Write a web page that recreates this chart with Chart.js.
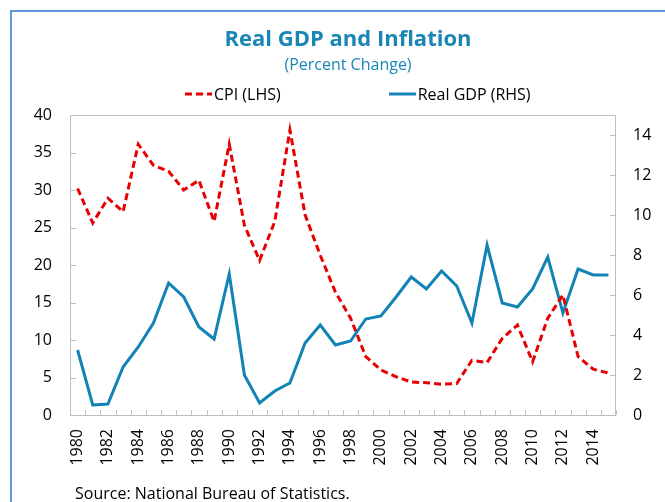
<!DOCTYPE html>
<html>
<head>
<meta charset="utf-8">
<script src="https://cdn.jsdelivr.net/npm/chart.js@4.4.1/dist/chart.umd.min.js"></script>
<style>
  body { margin: 0; background: #fff; font-family: "Open Sans", sans-serif; }
  #wrap { position: relative; width: 665px; height: 502px; overflow: hidden; background: #fff; }
  #frame { position: absolute; left: 10px; top: 10px; width: 700px; height: 560px;
           border-left: 2px solid #5b9bd5; border-top: 2px solid #5b9bd5; }
  #chart { position: absolute; left: 0; top: 0; }
  .head { position: absolute; left: 0; width: 696px; text-align: center; color: #1a86b5; }
  #title { top: 24px; font-size: 22px; line-height: 26px; font-weight: 700; }
  #subtitle { top: 54px; font-size: 16px; line-height: 20px; }
  #legend { position: absolute; left: 185px; top: 84px; display: flex; gap: 108px;
            font-size: 16px; line-height: 20px; color: #000; }
  #legend span { display: flex; align-items: center; }
  #legend svg { margin-right: 2px; }
  #source { position: absolute; left: 75px; top: 483px; font-size: 16px; line-height: 20px; color: #000; }
</style>
</head>
<body>
<div id="wrap">
  <div id="frame"></div>
  <canvas id="chart" width="665" height="502"></canvas>
  <div class="head" id="title">Real GDP and Inflation</div>
  <div class="head" id="subtitle">(Percent Change)</div>
  <div id="legend"></div>
  <div id="source">Source: National Bureau of Statistics.</div>
</div>
<script>
// data
const years = [
  "1980", "1981", "1982", "1983", "1984", "1985", "1986", "1987", "1988", "1989",
  "1990", "1991", "1992", "1993", "1994", "1995", "1996", "1997", "1998", "1999",
  "2000", "2001", "2002", "2003", "2004", "2005", "2006", "2007", "2008", "2009",
  "2010", "2011", "2012", "2013", "2014", "2015"
];
const cpi = [
  30.2, 25.6, 28.9, 27.1, 36.1, 33.3, 32.5, 30.0, 31.3, 25.8,
  36.1, 25.3, 20.6, 25.8, 38.0, 26.7, 21.3, 16.4, 12.9, 7.8,
  6.0, 5.1, 4.4, 4.3, 4.1, 4.2, 7.3, 7.0, 10.2, 12.0,
  7.1, 12.9, 16.0, 7.8, 6.1, 5.6
];
const gdp = [
  3.25, 0.5, 0.55, 2.4, 3.4, 4.6, 6.6, 5.9, 4.4, 3.8,
  7.05, 2.0, 0.6, 1.2, 1.6, 3.6, 4.5, 3.5, 3.7, 4.8,
  4.95, 5.9, 6.9, 6.3, 7.2, 6.45, 4.6, 8.5, 5.6, 5.4,
  6.3, 7.9, 5.1, 7.3, 7.0, 7.0
];
const cpiTicks = [0, 5, 10, 15, 20, 25, 30, 35, 40];
const gdpTicks = [0, 2, 4, 6, 8, 10, 12, 14];

const RED = "#e60000";
const BLUE = "#1283b4";
const FRAME = "#bfbfbf";

// plot frame and the short inward tick marks
const frameTicks = {
  id: "frameTicks",
  beforeDatasetsDraw(chart) {
    const { ctx, chartArea: a, scales } = chart;
    ctx.save();
    ctx.strokeStyle = FRAME;
    ctx.lineWidth = 1;
    ctx.strokeRect(a.left + 0.5, a.top + 0.5, a.right - a.left - 1, a.bottom - a.top);
    ctx.beginPath();
    for (let i = 0; i <= years.length; i++) {
      const x = Math.round(scales.x.getPixelForValue(i - 0.5)) + 0.5;
      ctx.moveTo(x, a.bottom);
      ctx.lineTo(x, a.bottom - 5);
    }
    cpiTicks.forEach(v => {
      const y = Math.round(scales.yL.getPixelForValue(v)) + 0.5;
      ctx.moveTo(a.left, y);
      ctx.lineTo(a.left + 6, y);
    });
    gdpTicks.forEach(v => {
      const y = Math.round(scales.yR.getPixelForValue(v)) + 0.5;
      ctx.moveTo(a.right, y);
      ctx.lineTo(a.right - 6, y);
    });
    ctx.stroke();
    ctx.restore();
  }
};

const tickFont = { family: "'Open Sans', sans-serif", size: 16 };

const chart = new Chart(document.getElementById("chart"), {
  type: "line",
  data: {
    labels: years,
    datasets: [
      {
        label: "CPI (LHS)",
        data: cpi,
        yAxisID: "yL",
        borderColor: RED,
        borderWidth: 3,
        borderDash: [7, 4],
        pointRadius: 0,
        tension: 0,
      },
      {
        label: "Real GDP (RHS)",
        data: gdp,
        yAxisID: "yR",
        borderColor: BLUE,
        borderWidth: 3,
        pointRadius: 0,
        tension: 0,
      },
    ],
  },
  options: {
    responsive: false,
    animation: false,
    devicePixelRatio: 1,
    layout: { padding: { top: 115, bottom: 0, left: 0, right: 0 } },
    plugins: {
      legend: { display: false },
      title: { display: false },
      tooltip: { enabled: false },
    },
    scales: {
      x: {
        type: "category",
        offset: true,
        grid: { display: false, drawTicks: false },
        border: { display: false },
        ticks: {
          autoSkip: false,
          minRotation: 90,
          maxRotation: 90,
          padding: 14,
          color: "#000",
          font: tickFont,
          callback: (v, i) => (i % 2 === 0 ? years[i] : ""),
        },
        afterFit: s => { s.height = 87; },
      },
      yL: {
        position: "left",
        min: 0,
        max: 40,
        grid: { display: false, drawTicks: false },
        border: { display: false },
        ticks: { padding: 18, color: "#000", font: tickFont },
        afterBuildTicks: s => { s.ticks = cpiTicks.map(v => ({ value: v })); },
        afterFit: s => { s.width = 70; },
      },
      yR: {
        position: "right",
        min: 0,
        max: 15,
        grid: { display: false, drawTicks: false },
        border: { display: false },
        ticks: { padding: 17, color: "#000", font: tickFont },
        afterBuildTicks: s => { s.ticks = gdpTicks.map(v => ({ value: v })); },
        afterFit: s => { s.width = 49; },
      },
    },
  },
  plugins: [frameTicks],
});

// legend built from the datasets
const legend = document.getElementById("legend");
chart.data.datasets.forEach(ds => {
  const item = document.createElement("span");
  const dash = ds.borderDash ? ds.borderDash.join(",") : "none";
  item.innerHTML =
    '<svg width="27" height="6"><line x1="0" y1="3" x2="27" y2="3" stroke="' + ds.borderColor +
    '" stroke-width="3" stroke-dasharray="' + dash + '"/></svg>';
  item.appendChild(document.createTextNode(ds.label));
  legend.appendChild(item);
});
</script>
</body>
</html>
